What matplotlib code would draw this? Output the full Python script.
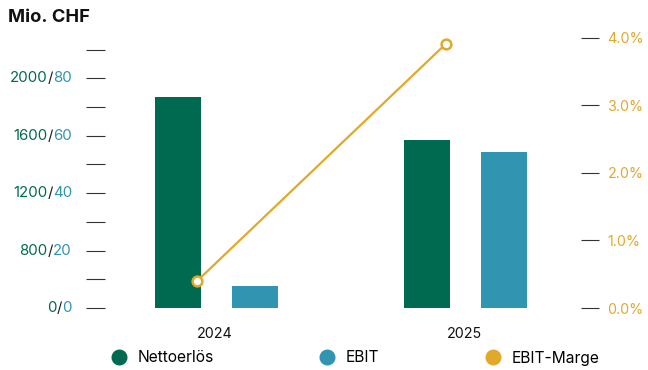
import matplotlib
matplotlib.use("Agg")
import matplotlib.pyplot as plt
from matplotlib.lines import Line2D
from matplotlib import transforms

# Data
years = ["2024", "2025"]
nettoerloes = [1838, 1463]      # Mio. CHF
ebit = [7.7, 54.4]              # Mio. CHF
ebit_marge = [0.40, 3.91]       # %

left_ticks = [0, 250, 500, 750, 1000, 1250, 1500, 1750, 2000, 2250]
left_label_pos = [0, 500, 1000, 1500, 2000]
left_label_main = ["0", "800", "1200", "1600", "2000"]
left_label_sub = ["0", "20", "40", "60", "80"]
right_ticks = [0, 1, 2, 3, 4]
right_labels = ["0.0%", "1.0%", "2.0%", "3.0%", "4.0%"]

GREEN = "#006A50"
TEAL = "#3194B0"
GOLD = "#E1A92A"
TICK = "#333333"

plt.rcParams["font.family"] = ["Inter", "DejaVu Sans"]

fig = plt.figure(figsize=(6.48, 3.70), dpi=100)
ax = fig.add_axes([105 / 648, 62 / 370, 476 / 648, 278 / 370])
ax_ebit = ax.twinx()
ax_pct = ax.twinx()

ymax_left = 2421.6
ax.set_ylim(0, ymax_left)
ax_ebit.set_ylim(0, ymax_left / 25)
ax_pct.set_ylim(0, 4.112)
ax.set_xlim(-0.442, 1.47)

x = [0, 1]
bw = 0.185
ax.bar([i - 0.150 for i in x], nettoerloes, width=bw, color=GREEN, zorder=2)
ax_ebit.bar([i + 0.160 for i in x], ebit, width=bw, color=TEAL, zorder=2)
ax_pct.plot([i - 0.072 for i in x], ebit_marge, color=GOLD, lw=1.6,
            marker="o", ms=7, mfc="white", mec=GOLD, mew=1.8, zorder=5)

for a in (ax, ax_ebit, ax_pct):
    for s in a.spines.values():
        s.set_visible(False)

# x axis
ax.set_xticks(x)
ax.set_xticklabels(years, fontsize=10.3, color="#111111")
ax.tick_params(axis="x", length=0, pad=14)

# left axis: ticks with two-coloured labels
ax.set_yticks(left_ticks)
ax.set_yticklabels([])
ax.tick_params(axis="y", direction="out", length=13.7, width=0.8, color=TICK, pad=0)
ax_ebit.set_yticks([])

fig.canvas.draw()
renderer = fig.canvas.get_renderer()
base = transforms.blended_transform_factory(ax.transAxes, ax.transData)
xr = (72 - 105) / 476
fs = 10.8
for pos, main, sub in zip(left_label_pos, left_label_main, left_label_sub):
    t1 = ax.text(xr, pos, sub, color=TEAL, fontsize=fs, ha="right", va="center",
                 transform=base)
    w1 = t1.get_window_extent(renderer).width
    tr2 = transforms.offset_copy(base, fig=fig, x=-w1, y=0, units="dots")
    t2 = ax.text(xr, pos, "/", color="#1a1a1a", fontsize=fs, ha="right", va="center",
                 transform=tr2)
    w2 = t2.get_window_extent(renderer).width
    tr3 = transforms.offset_copy(base, fig=fig, x=-(w1 + w2), y=0, units="dots")
    ax.text(xr, pos, main, color=GREEN, fontsize=fs, ha="right", va="center",
            transform=tr3)

# right axis
ax_pct.set_yticks(right_ticks)
ax_pct.set_yticklabels(right_labels, fontsize=10.3, color=GOLD)
ax_pct.tick_params(axis="y", direction="out", length=13, width=0.8, color=TICK, pad=6)

fig.text(8 / 648, 1 - 18 / 370, "Mio. CHF", fontsize=13.2, fontweight="bold",
         color="#111111", ha="left", va="center")

handles = [
    Line2D([], [], marker="o", ls="none", ms=10.5, color=GREEN),
    Line2D([], [], marker="o", ls="none", ms=10.5, color=TEAL),
    Line2D([], [], marker="o", ls="none", ms=10.5, color=GOLD),
]
fig.legend(handles, ["Nettoerlös", "EBIT", "EBIT-Marge"], loc="center",
           bbox_to_anchor=(355 / 648, 12 / 370), ncol=3, frameon=False,
           fontsize=11.2, handlelength=1.0, handletextpad=0.7, columnspacing=6.8)

fig.savefig("out.png", dpi=100)
